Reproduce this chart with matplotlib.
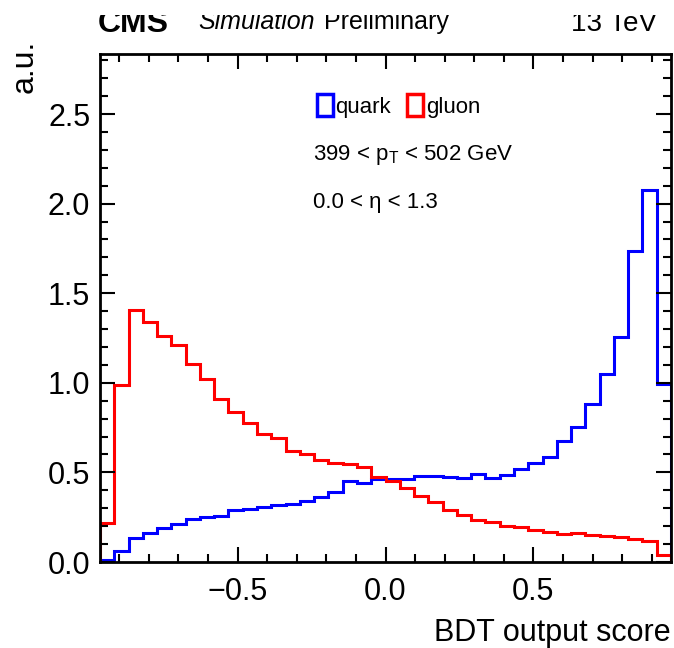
import numpy as np
import matplotlib
matplotlib.use("Agg")
import matplotlib.pyplot as plt
from matplotlib.patches import Patch, Rectangle
from matplotlib.ticker import AutoMinorLocator, MultipleLocator

plt.rcParams['font.family'] = ['Liberation Sans', 'DejaVu Sans']
plt.rcParams['mathtext.fontset'] = 'custom'
plt.rcParams['mathtext.rm'] = 'Liberation Sans'

# BDT output score, 40 bins
x_min, x_max, n_bins = -0.965, 0.965, 40

# normalised bin contents
quark = [0.01, 0.063, 0.132, 0.160, 0.188, 0.210, 0.240, 0.253, 0.257, 0.290,
         0.297, 0.305, 0.316, 0.324, 0.342, 0.361, 0.392, 0.452, 0.443, 0.461,
         0.461, 0.463, 0.482, 0.478, 0.473, 0.469, 0.490, 0.467, 0.485, 0.517,
         0.551, 0.588, 0.677, 0.752, 0.880, 1.047, 1.257, 1.737, 2.076, 0.992]
gluon = [0.220, 0.990, 1.406, 1.341, 1.261, 1.211, 1.103, 1.023, 0.911, 0.837,
         0.777, 0.712, 0.694, 0.622, 0.603, 0.569, 0.554, 0.547, 0.528, 0.476,
         0.452, 0.415, 0.370, 0.333, 0.290, 0.260, 0.236, 0.221, 0.203, 0.193,
         0.179, 0.169, 0.155, 0.160, 0.151, 0.145, 0.138, 0.127, 0.119, 0.039]

edges = np.linspace(x_min, x_max, n_bins + 1)

fig = plt.figure(figsize=(6.74, 6.48), dpi=100)
ax = fig.add_axes([100 / 674, 86 / 648, 571 / 674, 508 / 648])

ax.stairs(quark, edges, color='#0000ff', lw=2.2, baseline=0)
ax.stairs(gluon, edges, color='#ff0000', lw=2.2, baseline=0)

ax.set_xlim(x_min, x_max)
ax.set_ylim(0, 2.835)

# ROOT-like axes
ax.xaxis.set_major_locator(MultipleLocator(0.5))
ax.yaxis.set_major_locator(MultipleLocator(0.5))
ax.xaxis.set_minor_locator(AutoMinorLocator(5))
ax.yaxis.set_minor_locator(AutoMinorLocator(5))
ax.tick_params(which='both', direction='in', top=True, right=True, width=1.5)
ax.tick_params(which='major', length=10.5, labelsize=22)
ax.tick_params(which='minor', length=5.5)
ax.tick_params(axis='x', which='major', pad=11)
ax.tick_params(axis='y', which='major', pad=7)
for s in ax.spines.values():
    s.set_linewidth(2.0)

ax.set_xlabel("BDT output score", fontsize=22, loc='right')
ax.xaxis.set_label_coords(1.0, -0.11)
ax.set_ylabel("a.u.", fontsize=23, loc='top')
ax.yaxis.set_label_coords(-0.105, 1.0276)

# legend
handles = [Patch(facecolor='none', edgecolor='#0000ff', lw=2.5, label='quark'),
           Patch(facecolor='none', edgecolor='#ff0000', lw=2.5, label='gluon')]
ax.legend(handles=handles, ncol=2, loc='center left', bbox_to_anchor=(0.3795, 0.898),
          frameon=False, fontsize=16, handlelength=0.75, handleheight=1.13,
          handletextpad=0.1, columnspacing=0.7, borderpad=0, borderaxespad=0)

ax.text(0.373, 0.801, r"399 < p$_\mathregular{T}$ < 502 GeV", transform=ax.transAxes,
        fontsize=16, va='center', ha='left')
ax.text(0.373, 0.707, "0.0 < η < 1.3", transform=ax.transAxes,
        fontsize=16, va='center', ha='left')

# header
fig.text(98 / 674, 1 - 32 / 648, "CMS", fontsize=23, fontweight='bold', va='baseline')
fig.text(198 / 674, 1 - 29 / 648, "Simulation", fontsize=18, style='italic', va='baseline')
fig.text(324 / 674, 1 - 29 / 648, "Preliminary", fontsize=18, va='baseline')
fig.text(657 / 674, 1 - 31 / 648, "13 TeV", fontsize=20, ha='right', va='baseline')
# the reference is cut off just above the header
fig.patches.append(Rectangle((0, 1 - 15 / 648), 1, 15 / 648, transform=fig.transFigure,
                             facecolor='white', edgecolor='none', zorder=10))

fig.savefig("out.png", dpi=100)
